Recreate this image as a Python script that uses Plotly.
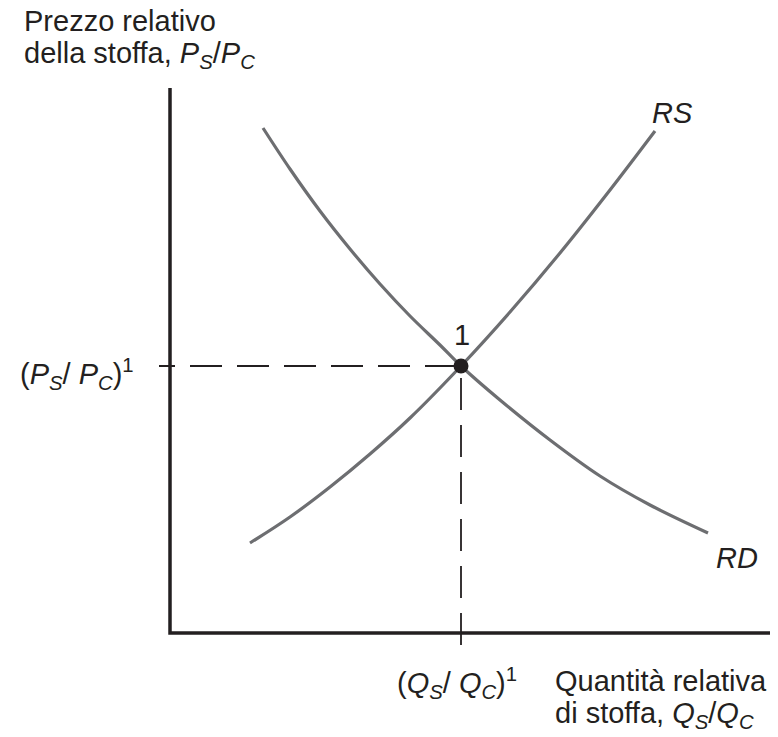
import plotly.graph_objects as go

# Unità: origine degli assi nell'angolo in basso a sinistra dell'area del grafico
# Curva di domanda relativa RD
rd_x = [93, 120, 150, 180, 210, 240, 270, 291, 330, 380, 430, 480, 538]
rd_y = [505, 464, 422, 384, 349, 317, 288, 267, 233, 193, 157, 128, 100]

# Curva di offerta relativa RS
rs_x = [80, 120, 160, 200, 240, 291, 340, 390, 440, 485]
rs_y = [90, 116, 146, 179, 215, 267, 321, 380, 443, 502]

# Punto di equilibrio 1
eq_x = 291
eq_y = 267

# Estensione degli assi
asse_x_max = 608
asse_y_max = 545

COLORE_TESTO = '#231f20'
COLORE_CURVE = '#6d6e71'
FONT = 'Liberation Sans, Arial, sans-serif'
DIM = 29

fig = go.Figure()

# Assi cartesiani
fig.add_trace(go.Scatter(
    x=[0, 0, asse_x_max], y=[asse_y_max, 0, 0],
    mode='lines', line=dict(color=COLORE_TESTO, width=3.5),
    hoverinfo='skip'
))

# Linee tratteggiate verso gli assi
fig.add_trace(go.Scatter(
    x=[eq_x - 4, -11], y=[eq_y, eq_y],
    mode='lines', line=dict(color=COLORE_TESTO, width=1.8, dash='32px,15px'),
    hoverinfo='skip'
))
fig.add_trace(go.Scatter(
    x=[eq_x, eq_x], y=[eq_y - 12, -12],
    mode='lines', line=dict(color=COLORE_TESTO, width=1.8, dash='32px,15px'),
    hoverinfo='skip'
))

# Curve RD e RS
fig.add_trace(go.Scatter(
    x=rd_x, y=rd_y, mode='lines', line_shape='spline',
    line=dict(color=COLORE_CURVE, width=3.2), name='RD'
))
fig.add_trace(go.Scatter(
    x=rs_x, y=rs_y, mode='lines', line_shape='spline',
    line=dict(color=COLORE_CURVE, width=3.2), name='RS'
))

# Punto di equilibrio
fig.add_trace(go.Scatter(
    x=[eq_x], y=[eq_y], mode='markers',
    marker=dict(color=COLORE_TESTO, size=15), name='1'
))

etichette = [
    dict(x=-148, y=612, text='Prezzo relativo', xanchor='left'),
    dict(x=-148, y=578, text='della stoffa, <i>P<sub>S</sub></i>/<i>P<sub>C</sub></i>', xanchor='left'),
    dict(x=-152, y=259, text='(<i>P<sub>S</sub></i>/ <i>P<sub>C</sub></i>)<sup>1</sup>', xanchor='left'),
    dict(x=292, y=298, text='1', xanchor='center'),
    dict(x=502, y=520, text='<i>RS</i>', xanchor='center'),
    dict(x=567, y=75, text='<i>RD</i>', xanchor='center'),
    dict(x=287, y=-50, text='(<i>Q<sub>S</sub></i>/ <i>Q<sub>C</sub></i>)<sup>1</sup>', xanchor='center'),
    dict(x=383, y=-48, text='Quantità relativa', xanchor='left'),
    dict(x=383, y=-82, text='di stoffa, <i>Q<sub>S</sub></i>/<i>Q<sub>C</sub></i>', xanchor='left'),
]
for e in etichette:
    fig.add_annotation(
        x=e['x'], y=e['y'], text=e['text'], xanchor=e['xanchor'], yanchor='middle',
        showarrow=False, font=dict(family=FONT, size=DIM, color=COLORE_TESTO)
    )

# La pagina ha un margine di 8 px: figura più piccola e assi spostati di conseguenza
fig.update_layout(
    width=770,
    height=729,
    margin=dict(l=0, r=0, t=0, b=0),
    plot_bgcolor='white',
    paper_bgcolor='white',
    showlegend=False,
    xaxis=dict(range=[-162, 608], visible=False),
    yaxis=dict(range=[-104, 625], visible=False),
)

fig.write_html("out.html")
